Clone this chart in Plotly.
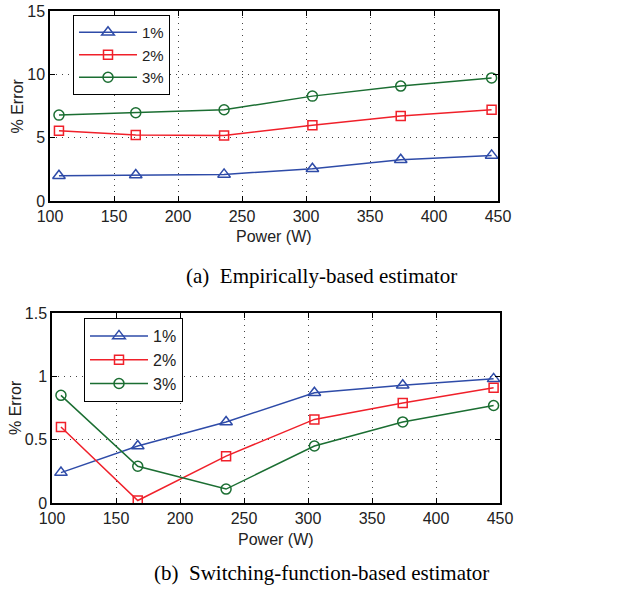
import plotly.graph_objects as go

power = [107, 167, 236, 305, 374, 445]
series_names = ["1%", "2%", "3%"]

# (a) Empirically-based estimator
emp_1 = [2.0, 2.05, 2.1, 2.55, 3.25, 3.6]
emp_2 = [5.55, 5.22, 5.17, 5.98, 6.72, 7.2]
emp_3 = [6.78, 6.97, 7.2, 8.28, 9.07, 9.72]

# (b) Switching-function-based estimator
sw_1 = [0.24, 0.45, 0.64, 0.87, 0.93, 0.98]
sw_2 = [0.6, 0.02, 0.37, 0.66, 0.79, 0.91]
sw_3 = [0.85, 0.29, 0.11, 0.45, 0.64, 0.77]

x_ticks = [100, 150, 200, 250, 300, 350, 400, 450]
y_ticks_a = [0, 5, 10, 15]
y_ticks_b = [0, 0.5, 1, 1.5]
y_ticktext_b = ["0", "0.5", "1", "1.5"]

x_title = "Power (W)"
y_title = "% Error"
caption_a = "(a)  Empirically-based estimator"
caption_b = "(b)  Switching-function-based estimator"

colors = ["#2E4BA8", "#F0202A", "#1B6E32"]
symbols = ["triangle-up-open", "square-open", "circle-open"]
msizes = [11, 9, 10]

W, H = 644, 591
FONT = "Liberation Sans, Arial, sans-serif"
SERIF = "Liberation Serif, Times New Roman, serif"

fig = go.Figure()
for i, ys in enumerate([emp_1, emp_2, emp_3]):
    fig.add_trace(go.Scatter(
        x=power, y=ys, name=series_names[i], mode="lines+markers",
        line=dict(color=colors[i], width=1.5),
        marker=dict(symbol=symbols[i], size=msizes[i], color=colors[i], line=dict(width=1.5, color=colors[i])),
        xaxis="x", yaxis="y", legend="legend"))
for i, ys in enumerate([sw_1, sw_2, sw_3]):
    fig.add_trace(go.Scatter(
        x=power, y=ys, name=series_names[i], mode="lines+markers",
        line=dict(color=colors[i], width=1.5),
        marker=dict(symbol=symbols[i], size=msizes[i], color=colors[i], line=dict(width=1.5, color=colors[i])),
        xaxis="x2", yaxis="y2", legend="legend2"))

axis_common = dict(
    showline=True, linecolor="black", linewidth=1.5, mirror="ticks",
    ticks="inside", ticklen=5, tickwidth=1, tickcolor="black",
    showgrid=True, gridcolor="#444", gridwidth=1, griddash="1px,5px",
    zeroline=False, tickfont=dict(family=FONT, size=16, color="#222"),
    automargin=False,
)

def px_x(p):
    return p / W

def px_y(p):
    return 1 - p / H

def label(text, x, y, size, angle=0, family=FONT, color="#222"):
    return dict(text=text, x=px_x(x), y=px_y(y), xref="paper", yref="paper",
                xanchor="center", yanchor="middle", showarrow=False, textangle=angle,
                font=dict(family=family, size=size, color=color))

fig.update_layout(
    width=W, height=H, margin=dict(l=0, r=0, t=0, b=0),
    paper_bgcolor="white", plot_bgcolor="white",
    font=dict(family=FONT, size=16, color="#222"),
    xaxis=dict(domain=[px_x(50), px_x(498)], range=[100, 450], tickvals=x_ticks,
               anchor="y", **axis_common),
    yaxis=dict(domain=[px_y(201), px_y(11)], range=[0, 15], tickvals=y_ticks_a,
               anchor="x", **axis_common),
    xaxis2=dict(domain=[px_x(52), px_x(500)], range=[100, 450], tickvals=x_ticks,
                anchor="y2", **axis_common),
    yaxis2=dict(domain=[px_y(503), px_y(313)], range=[0, 1.5], tickvals=y_ticks_b, ticktext=y_ticktext_b,
                anchor="x2", **axis_common),
    legend=dict(x=px_x(73), y=px_y(15), xanchor="left", yanchor="top",
                bgcolor="white", bordercolor="black", borderwidth=1,
                font=dict(family=FONT, size=15, color="#222"), itemwidth=58, tracegroupgap=0),
    legend2=dict(x=px_x(84), y=px_y(318), xanchor="left", yanchor="top",
                 bgcolor="white", bordercolor="black", borderwidth=1,
                 font=dict(family=FONT, size=16, color="#222"), itemwidth=58, tracegroupgap=0),
    annotations=[
        label(x_title, 274, 236, 16),
        label(y_title, 17.5, 106, 16, angle=-90),
        label(x_title, 276, 539, 16),
        label(y_title, 15, 408, 16, angle=-90),
        label(caption_a, 321, 276, 21, family=SERIF, color="black"),
        label(caption_b, 321, 573, 21, family=SERIF, color="black"),
    ],
    showlegend=True,
)

fig.write_html("out.html", config={"displayModeBar": False},
               post_script="document.body.style.margin='0';document.body.style.overflow='hidden';")
